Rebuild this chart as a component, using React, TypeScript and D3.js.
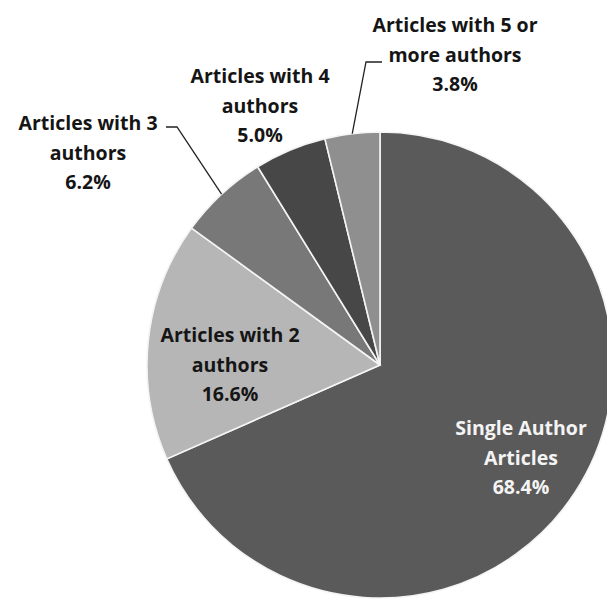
import React from "react";
import * as d3 from "d3";

const categories = [
  "Single Author Articles",
  "Articles with 2 authors",
  "Articles with 3 authors",
  "Articles with 4 authors",
  "Articles with 5 or more authors",
];
const values = [68.4, 16.6, 6.2, 5.0, 3.8];
const labelLines = [
  ["Single Author", "Articles", "68.4%"],
  ["Articles with 2", "authors", "16.6%"],
  ["Articles with 3", "authors", "6.2%"],
  ["Articles with 4", "authors", "5.0%"],
  ["Articles with 5 or", "more authors", "3.8%"],
];
const colors = ["#5a5a5a", "#b6b6b6", "#787878", "#474747", "#8f8f8f"];
const labelColors = ["#f4f4f4", "#151515", "#151515", "#151515", "#151515"];

const W = 607;
const H = 602;
const cx = 380;
const cy = 365;
const R = 233;
const lineH = 29.5;

// label centre (middle line) offsets relative to pie centre
const labelPos: [number, number][] = [
  [141, 93],
  [-150, 0],
  [-292, -212],
  [-120, -259],
  [75, -310],
];
// leader polylines for outside labels: [slice index, elbow offset, end offset]
const leaders: { i: number; pts: [number, number][] }[] = [
  { i: 2, pts: [[-203, -238], [-214, -238]] },
  { i: 4, pts: [[-14, -303], [2, -303]] },
];

export default function App() {
  const pie = d3
    .pie<number>()
    .sort(null)
    .value((d) => d);
  const arcs = pie(values);
  const arc = d3.arc<d3.PieArcDatum<number>>().innerRadius(0).outerRadius(R);

  return (
    <svg
      width={W}
      height={H}
      style={{ position: "absolute", left: 0, top: 0, background: "#fff" }}
      fontFamily="'Open Sans', 'Liberation Sans', sans-serif"
    >
      <rect width={W} height={H} fill="#fff" />
      <g transform={`translate(${cx},${cy})`}>
        {arcs.map((a, i) => (
          <path
            key={categories[i]}
            d={arc(a) || ""}
            fill={colors[i]}
            stroke="#f4f4f4"
            strokeWidth={1.6}
          />
        ))}
        {leaders.map((l) => {
          const a = arcs[l.i];
          const mid = (a.startAngle + a.endAngle) / 2;
          const x0 = R * Math.sin(mid);
          const y0 = -R * Math.cos(mid);
          const pts = [[x0, y0], ...l.pts];
          return (
            <polyline
              key={l.i}
              points={pts.map((p) => p.join(",")).join(" ")}
              fill="none"
              stroke="#222"
              strokeWidth={1.3}
            />
          );
        })}
        {labelLines.map((lines, i) => (
          <text
            key={i}
            x={labelPos[i][0]}
            y={labelPos[i][1]}
            textAnchor="middle"
            fontSize={19.5}
            fontWeight="bold"
            fill={labelColors[i]}
          >
            {lines.map((t, j) => (
              <tspan
                key={j}
                x={labelPos[i][0]}
                y={labelPos[i][1] + (j - 1) * lineH}
                dy="0.35em"
              >
                {t}
              </tspan>
            ))}
          </text>
        ))}
      </g>
    </svg>
  );
}
